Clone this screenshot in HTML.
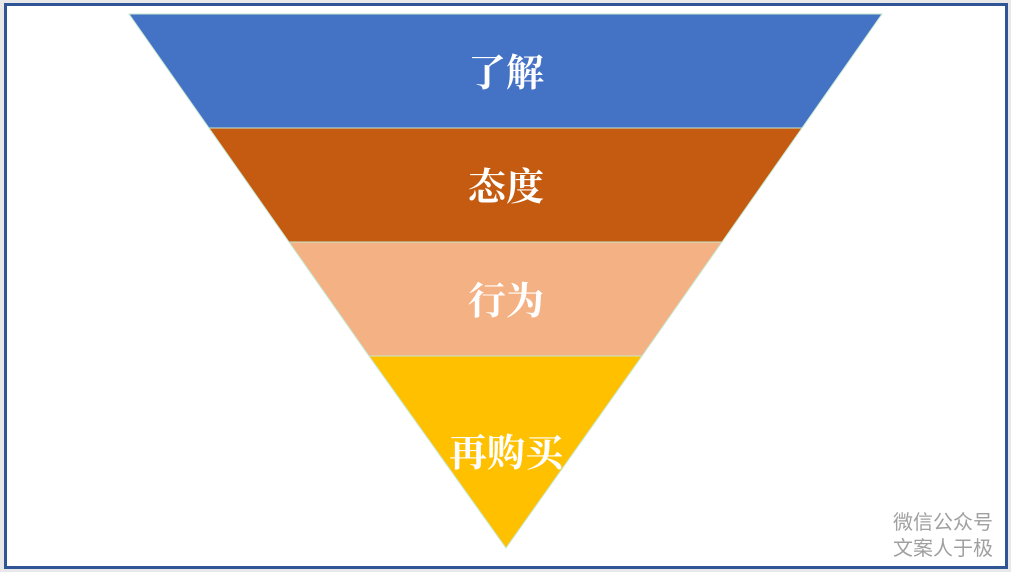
<!DOCTYPE html>
<html><head><meta charset="utf-8"><style>
html,body{margin:0;padding:0;background:#e8e8e8;}
body{width:1011px;height:572px;position:relative;overflow:hidden;}
.frame{position:absolute;left:4px;top:3px;width:998px;height:560px;border:3px solid #2f5597;background:#fff;}
svg{position:absolute;left:0;top:0;}
.t{font-family:"Liberation Serif","Noto Serif CJK SC",serif;font-weight:bold;font-size:38px;fill:#fff;}
.wm{position:absolute;right:18px;top:510px;font-family:"Liberation Sans","Noto Sans CJK SC",sans-serif;font-size:20px;line-height:26px;color:#a0a0a0;text-align:right;}
</style></head><body>
<div class="frame"></div>
<svg width="1011" height="572">
<g stroke="#c6e8d0" stroke-width="1">
<polygon points="129,14 882,14 802,128 209,128" fill="#4472c4"/>
<polygon points="209,128 802,128 722,242 289,242" fill="#c55a11"/>
<polygon points="289,242 722,242 642,356 369,356" fill="#f4b183"/>
<polygon points="369,356 642,356 506,548" fill="#ffc000"/>
</g>
<text class="t" x="506" y="86" text-anchor="middle">了解</text>
<text class="t" x="506" y="200" text-anchor="middle">态度</text>
<text class="t" x="506" y="314" text-anchor="middle">行为</text>
<text class="t" x="506" y="466" text-anchor="middle">再购买</text>
</svg>
<div class="wm">微信公众号<br>文案人于极</div>
</body></html>
